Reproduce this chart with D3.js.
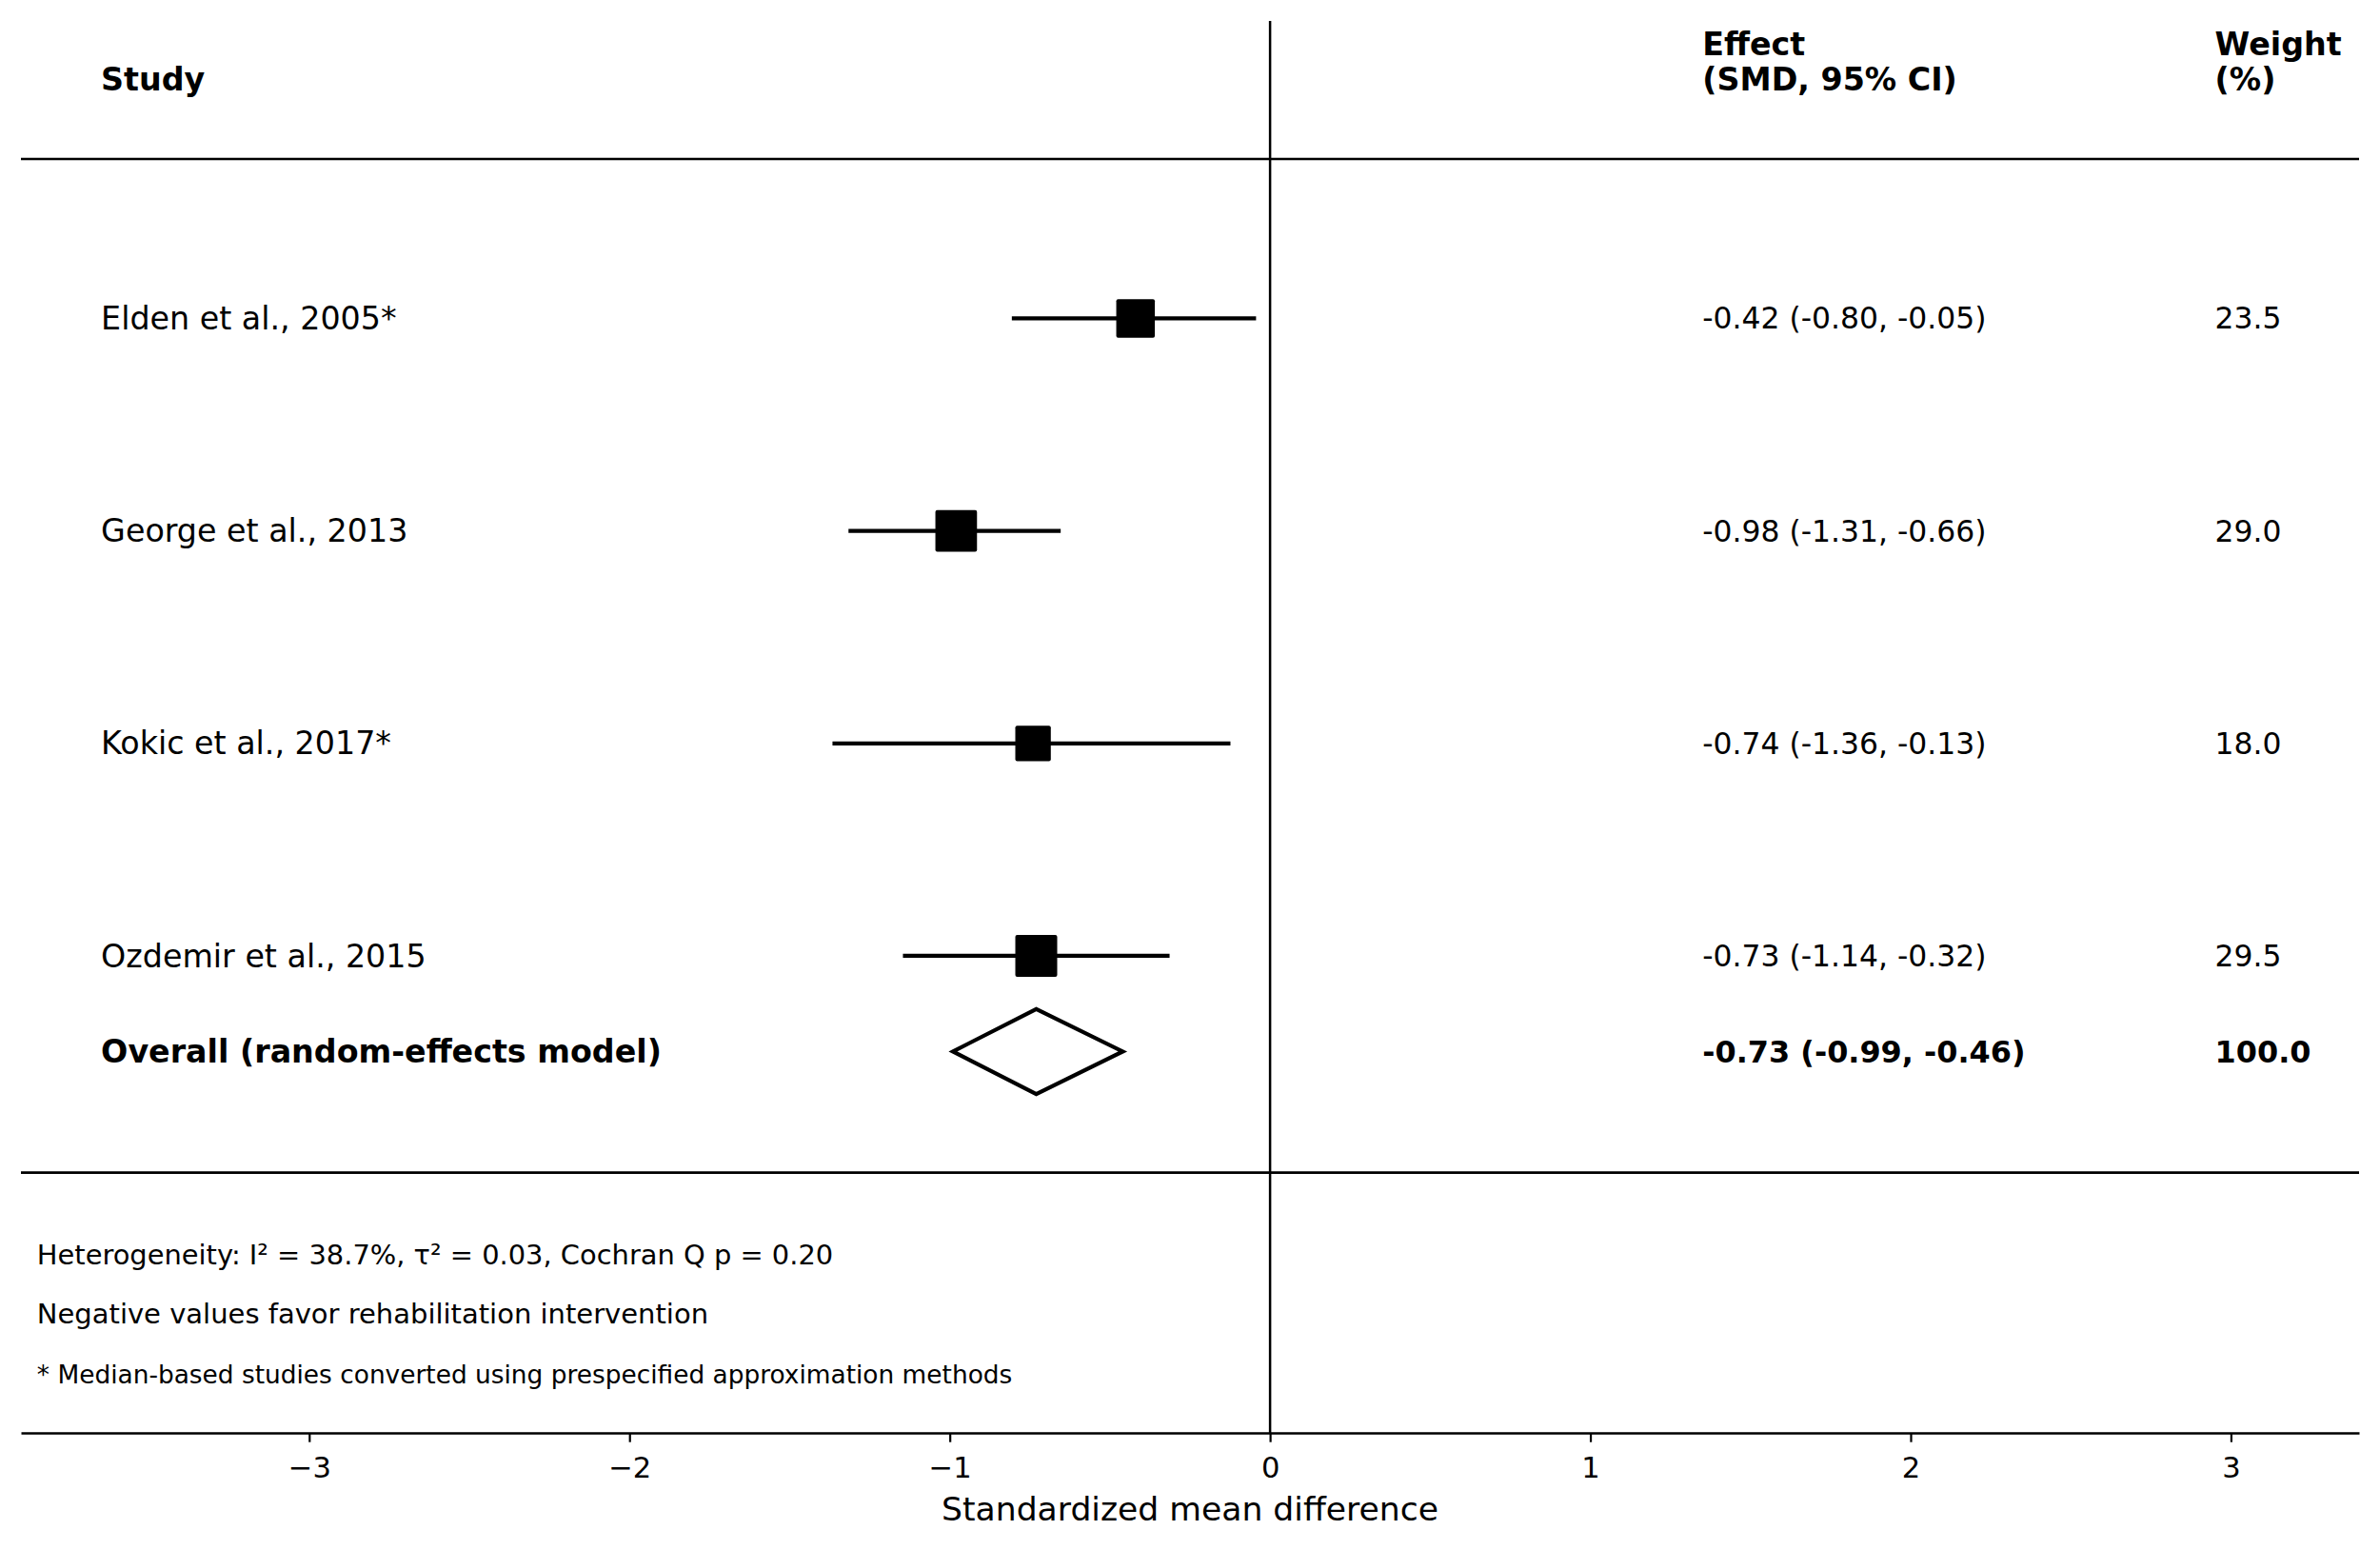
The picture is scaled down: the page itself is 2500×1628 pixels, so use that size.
<!DOCTYPE html>
<html>
<head>
<meta charset="utf-8">
<script src="https://cdn.jsdelivr.net/npm/d3@7"></script>
<style>
  body { margin: 0; background: #fff; }
  svg { display: block; font-family: "DejaVu Sans", sans-serif; }
</style>
</head>
<body>
<div id="container"></div>
<script>
/* DATA */
const studies = ["Elden et al., 2005*", "George et al., 2013", "Kokic et al., 2017*", "Ozdemir et al., 2015"];
const smd = [-0.42, -0.98, -0.74, -0.73];
const ciLow = [-0.80, -1.31, -1.36, -1.14];
const ciHigh = [-0.05, -0.66, -0.13, -0.32];
const weights = [23.5, 29.0, 18.0, 29.5];

const overallLabel = "Overall (random-effects model)";
const overallSmd = -0.73, overallLow = -0.99, overallHigh = -0.46, overallWeight = 100.0;

const xTicks = [-3, -2, -1, 0, 1, 2, 3];
const footnotes = [
  "Heterogeneity: I\u00b2 = 38.7%, \u03c4\u00b2 = 0.03, Cochran Q p = 0.20",
  "Negative values favor rehabilitation intervention",
  "* Median-based studies converted using prespecified approximation methods"
];

/* CONSTANTS AND GLOBALS */
const width = 2500,
      height = 1628,
      margin = { top: 22, bottom: 123, left: 22, right: 22 };

const svg = d3.select("#container").append("svg")
  .attr("width", width)
  .attr("height", height);

/* SCALES */
const xScale = d3.scaleLinear()
  .domain([-3.9, 3.4])
  .range([margin.left, width - margin.right]);

// rows are 1 unit apart, axis runs top to bottom
const yScale = d3.scaleLinear()
  .domain([-1.4, 5.245])
  .range([margin.top, height - margin.bottom]);

// square size grows with the study weight
const sizeScale = d3.scaleLinear()
  .domain([18, 29.5])
  .range([37.3, 44]);

const colStudy = -3.65, colEffect = 1.35, colWeight = 2.95, colNote = -3.85;
const fmtEffect = (e, lo, hi) => `${e.toFixed(2)} (${lo.toFixed(2)}, ${hi.toFixed(2)})`;

/* REFERENCE LINES */
svg.append("line")
  .attr("x1", xScale(0)).attr("x2", xScale(0))
  .attr("y1", margin.top).attr("y2", height - margin.bottom)
  .attr("stroke", "#000")
  .attr("stroke-width", 2.5);

[-0.75, 4.02].forEach(v => {
  svg.append("line")
    .attr("x1", margin.left).attr("x2", width - margin.right)
    .attr("y1", yScale(v)).attr("y2", yScale(v))
    .attr("stroke", "#000")
    .attr("stroke-width", 2.6);
});

/* X AXIS */
const xAxis = d3.axisBottom(xScale)
  .tickValues(xTicks)
  .tickSize(9.7)
  .tickPadding(16)
  .tickSizeOuter(0);

const gx = svg.append("g")
  .attr("transform", `translate(0,${height - margin.bottom})`)
  .call(xAxis);
gx.select(".domain").attr("stroke-width", 2.4);
gx.selectAll(".tick line").attr("stroke-width", 2.2);
gx.selectAll(".tick text")
  .attr("font-family", "DejaVu Sans")
  .attr("font-size", 30.6)
  .attr("fill", "#000");

svg.append("text")
  .attr("x", (margin.left + width - margin.right) / 2)
  .attr("y", 1597)
  .attr("text-anchor", "middle")
  .attr("font-size", 34.6)
  .text("Standardized mean difference");

/* HEADER */
const headY = yScale(-1.127);
const lineGap = 37;
svg.append("text")
  .attr("x", xScale(colStudy)).attr("y", headY).attr("dy", "0.35em")
  .attr("font-size", 33.3).attr("font-weight", "bold")
  .text("Study");
svg.append("text")
  .attr("x", xScale(colEffect)).attr("y", headY - lineGap).attr("dy", "0.35em")
  .attr("font-size", 33.3).attr("font-weight", "bold")
  .text("Effect");
svg.append("text")
  .attr("x", xScale(colEffect)).attr("y", headY).attr("dy", "0.35em")
  .attr("font-size", 33.3).attr("font-weight", "bold")
  .text("(SMD, 95% CI)");
svg.append("text")
  .attr("x", xScale(colWeight)).attr("y", headY - lineGap).attr("dy", "0.35em")
  .attr("font-size", 33.3).attr("font-weight", "bold")
  .text("Weight");
svg.append("text")
  .attr("x", xScale(colWeight)).attr("y", headY).attr("dy", "0.35em")
  .attr("font-size", 33.3).attr("font-weight", "bold")
  .text("(%)");

/* STUDY ROWS */
const rows = svg.selectAll("g.row")
  .data(studies)
  .enter()
  .append("g")
    .attr("class", "row")
    .attr("transform", (d, i) => `translate(0,${yScale(i)})`);

rows.append("text")
  .attr("x", xScale(colStudy)).attr("dy", "0.35em")
  .attr("font-size", 33.3)
  .text(d => d);

rows.append("line")
  .attr("x1", (d, i) => xScale(ciLow[i]))
  .attr("x2", (d, i) => xScale(ciHigh[i]))
  .attr("stroke", "#000")
  .attr("stroke-width", 4.2)
  .attr("stroke-linecap", "square");

rows.append("rect")
  .attr("x", (d, i) => xScale(smd[i]) - sizeScale(weights[i]) / 2)
  .attr("y", (d, i) => -sizeScale(weights[i]) / 2)
  .attr("width", (d, i) => sizeScale(weights[i]))
  .attr("height", (d, i) => sizeScale(weights[i]))
  .attr("rx", 2)
  .attr("fill", "#000");

rows.append("text")
  .attr("x", xScale(colEffect)).attr("dy", "0.35em")
  .attr("font-size", 31.4)
  .text((d, i) => fmtEffect(smd[i], ciLow[i], ciHigh[i]));

rows.append("text")
  .attr("x", xScale(colWeight)).attr("dy", "0.35em")
  .attr("font-size", 31.4)
  .text((d, i) => weights[i].toFixed(1));

/* OVERALL ROW */
const yOverall = yScale(3.45);
const halfH = yScale(0.2) - yScale(0);
svg.append("path")
  .attr("d", `M${xScale(overallLow)},${yOverall}
              L${xScale(overallSmd)},${yOverall - halfH}
              L${xScale(overallHigh)},${yOverall}
              L${xScale(overallSmd)},${yOverall + halfH}Z`)
  .attr("fill", "#fff")
  .attr("stroke", "#000")
  .attr("stroke-width", 4.2);

[[colStudy, overallLabel, 33.3],
 [colEffect, fmtEffect(overallSmd, overallLow, overallHigh), 31.9],
 [colWeight, overallWeight.toFixed(1), 31.9]].forEach(([c, t, s]) => {
  svg.append("text")
    .attr("x", xScale(c)).attr("y", yOverall).attr("dy", "0.35em")
    .attr("font-size", s).attr("font-weight", "bold")
    .text(t);
});

/* FOOTNOTES */
const noteY = [4.408, 4.686, 4.972];
const noteSize = [28.9, 29, 26.4];
footnotes.forEach((t, i) => {
  svg.append("text")
    .attr("x", xScale(colNote)).attr("y", yScale(noteY[i])).attr("dy", "0.35em")
    .attr("font-size", noteSize[i])
    .text(t);
});
</script>
</body>
</html>
